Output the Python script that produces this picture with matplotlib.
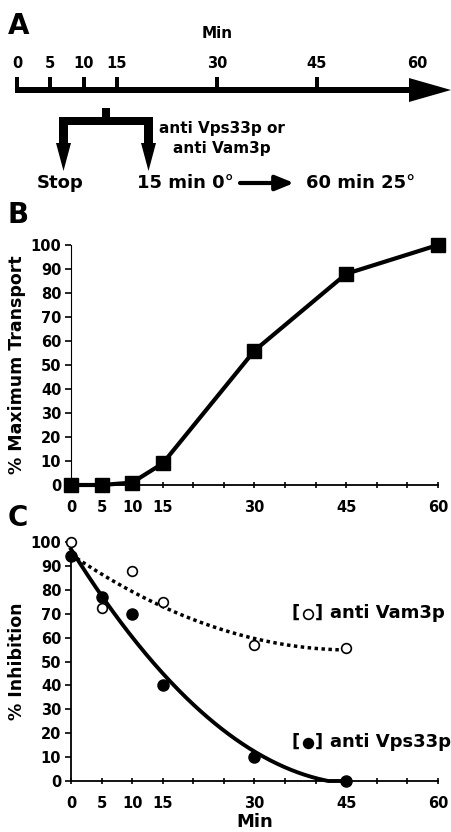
import matplotlib
matplotlib.use("Agg")
import matplotlib.pyplot as plt
from matplotlib.patches import Polygon, Rectangle
import numpy as np

plt.rcParams["font.family"] = ["DejaVu Sans"]
plt.rcParams["font.weight"] = "bold"
plt.rcParams["axes.labelweight"] = "bold"

# ── data ────────────────────────────────────────────────────────────────────
TIMELINE_MIN = [0, 5, 10, 15, 30, 45, 60]

B_TIME = [0, 5, 10, 15, 30, 45, 60]
B_TRANSPORT = [0, 0, 1, 9, 56, 88, 100]

C_TIME = [0, 5, 10, 15, 30, 45]
C_VAM3 = [100, 72.5, 88, 75, 57, 55.5]
C_VPS33 = [94, 77, 70, 40, 10, 0]

X_TICKS = list(range(0, 61, 5))
X_LABELED = [0, 5, 10, 15, 30, 45, 60]
Y_TICKS = list(range(0, 101, 10))

W, H = 452, 832
fig = plt.figure(figsize=(W / 100, H / 100), dpi=100)

# overlay in pixel coordinates for the schematic and panel letters
ov = fig.add_axes([0, 0, 1, 1])
ov.set_xlim(0, W); ov.set_ylim(H, 0); ov.axis("off")


def tx(m):
    return 17 + m * 400 / 60


# ── Panel A: timeline ───────────────────────────────────────────────────────
ov.text(8, 26, "A", fontsize=20, ha="left", va="center")
ov.text(tx(30), 33, "Min", fontsize=11, ha="center", va="center")
ov.add_patch(Rectangle((tx(0) - 2, 87), 411 - tx(0), 6, color="k", lw=0))
ov.add_patch(Polygon([[409, 78], [409, 102], [451, 90]], closed=True, color="k", lw=0))
for m in TIMELINE_MIN:
    ov.text(tx(m), 64, str(m), fontsize=10.5, ha="center", va="center")
    if m < 60:
        ov.add_patch(Rectangle((tx(m) - 2, 77), 4, 11, color="k", lw=0))

# bracket with two arrows
ov.add_patch(Rectangle((102, 108), 8, 10, color="k", lw=0))
ov.add_patch(Rectangle((59, 117), 94, 8, color="k", lw=0))
for xc in (63.5, 148.5):
    ov.add_patch(Rectangle((xc - 4.5, 120), 9, 24, color="k", lw=0))
    ov.add_patch(Polygon([[xc - 7.5, 143], [xc + 7.5, 143], [xc, 171]], closed=True,
                         color="k", lw=0))
ov.text(222, 128, "anti Vps33p or", fontsize=11, ha="center", va="center")
ov.text(222, 148, "anti Vam3p", fontsize=11, ha="center", va="center")
ov.text(60, 183, "Stop", fontsize=13, ha="center", va="center")
ov.text(137, 183, "15 min 0\u00b0", fontsize=13, ha="left", va="center")
ov.annotate("", xy=(294, 183), xytext=(240, 183),
            arrowprops=dict(arrowstyle="-|>,head_length=1.1,head_width=0.45",
                            color="k", lw=3, shrinkA=0, shrinkB=0))
ov.text(306, 183, "60 min 25\u00b0", fontsize=13, ha="left", va="center")

ov.text(8, 215, "B", fontsize=20, ha="left", va="center")
ov.text(8, 518, "C", fontsize=20, ha="left", va="center")


def style(ax, ylabel, left_lw):
    ax.set_xlim(0, 60); ax.set_ylim(0, 100)
    for s in ("top", "right"):
        ax.spines[s].set_visible(False)
    ax.spines["bottom"].set_linewidth(1.3)
    ax.spines["left"].set_linewidth(left_lw)
    ax.set_xticks(X_TICKS)
    ax.set_xticklabels([str(t) if t in X_LABELED else "" for t in X_TICKS])
    ax.set_yticks(Y_TICKS)
    ax.tick_params(axis="x", direction="inout", length=5, width=1.2, pad=8, labelsize=10.5)
    ax.tick_params(axis="y", direction="out", length=4, width=1.2, pad=3, labelsize=10.5)
    ax.set_ylabel(ylabel, fontsize=12.5)
    ax.yaxis.set_label_coords(-0.123, 0.5)
    ax.patch.set_visible(False)


# ── Panel B ─────────────────────────────────────────────────────────────────
axB = fig.add_axes([71 / W, (H - 485) / H, 367 / W, 240 / H])
style(axB, "% Maximum Transport", left_lw=0.8)
axB.plot(B_TIME, B_TRANSPORT, color="k", lw=3, marker="s", ms=10,
         clip_on=False, zorder=3)

# ── Panel C ─────────────────────────────────────────────────────────────────
axC = fig.add_axes([71 / W, (H - 781) / H, 367 / W, 239 / H])
style(axC, "% Inhibition", left_lw=1.3)
xs = np.linspace(0, 45, 200)
fit_vam = np.polyfit(C_TIME, C_VAM3, 2)
fit_vps = np.polyfit(C_TIME, C_VPS33, 2)
axC.plot(xs, np.polyval(fit_vam, xs), color="k", lw=2.5, ls=(0, (1, 1)), clip_on=False)
axC.plot(xs, np.clip(np.polyval(fit_vps, xs), 0, None), color="k", lw=2.8, clip_on=False)
axC.plot(C_TIME, C_VAM3, "o", mfc="white", mec="k", mew=1.2, ms=7, clip_on=False, zorder=4)
axC.plot(C_TIME, C_VPS33, "o", color="k", ms=8, clip_on=False, zorder=4)
axC.set_xlabel("Min", fontsize=13, labelpad=2)

# legend-like labels: bracket, marker symbol, text
for y, filled, label in ((613, False, "anti Vam3p"), (742, True, "anti Vps33p")):
    ov.text(292, y, "[", fontsize=13, ha="left", va="center")
    ov.plot([308], [y + 1], "o", ms=7, mec="k", mew=1.2,
            mfc="k" if filled else "white")
    ov.text(315, y, "]", fontsize=13, ha="left", va="center")
    ov.text(330, y, label, fontsize=13, ha="left", va="center")

fig.savefig("out.png", dpi=100)
